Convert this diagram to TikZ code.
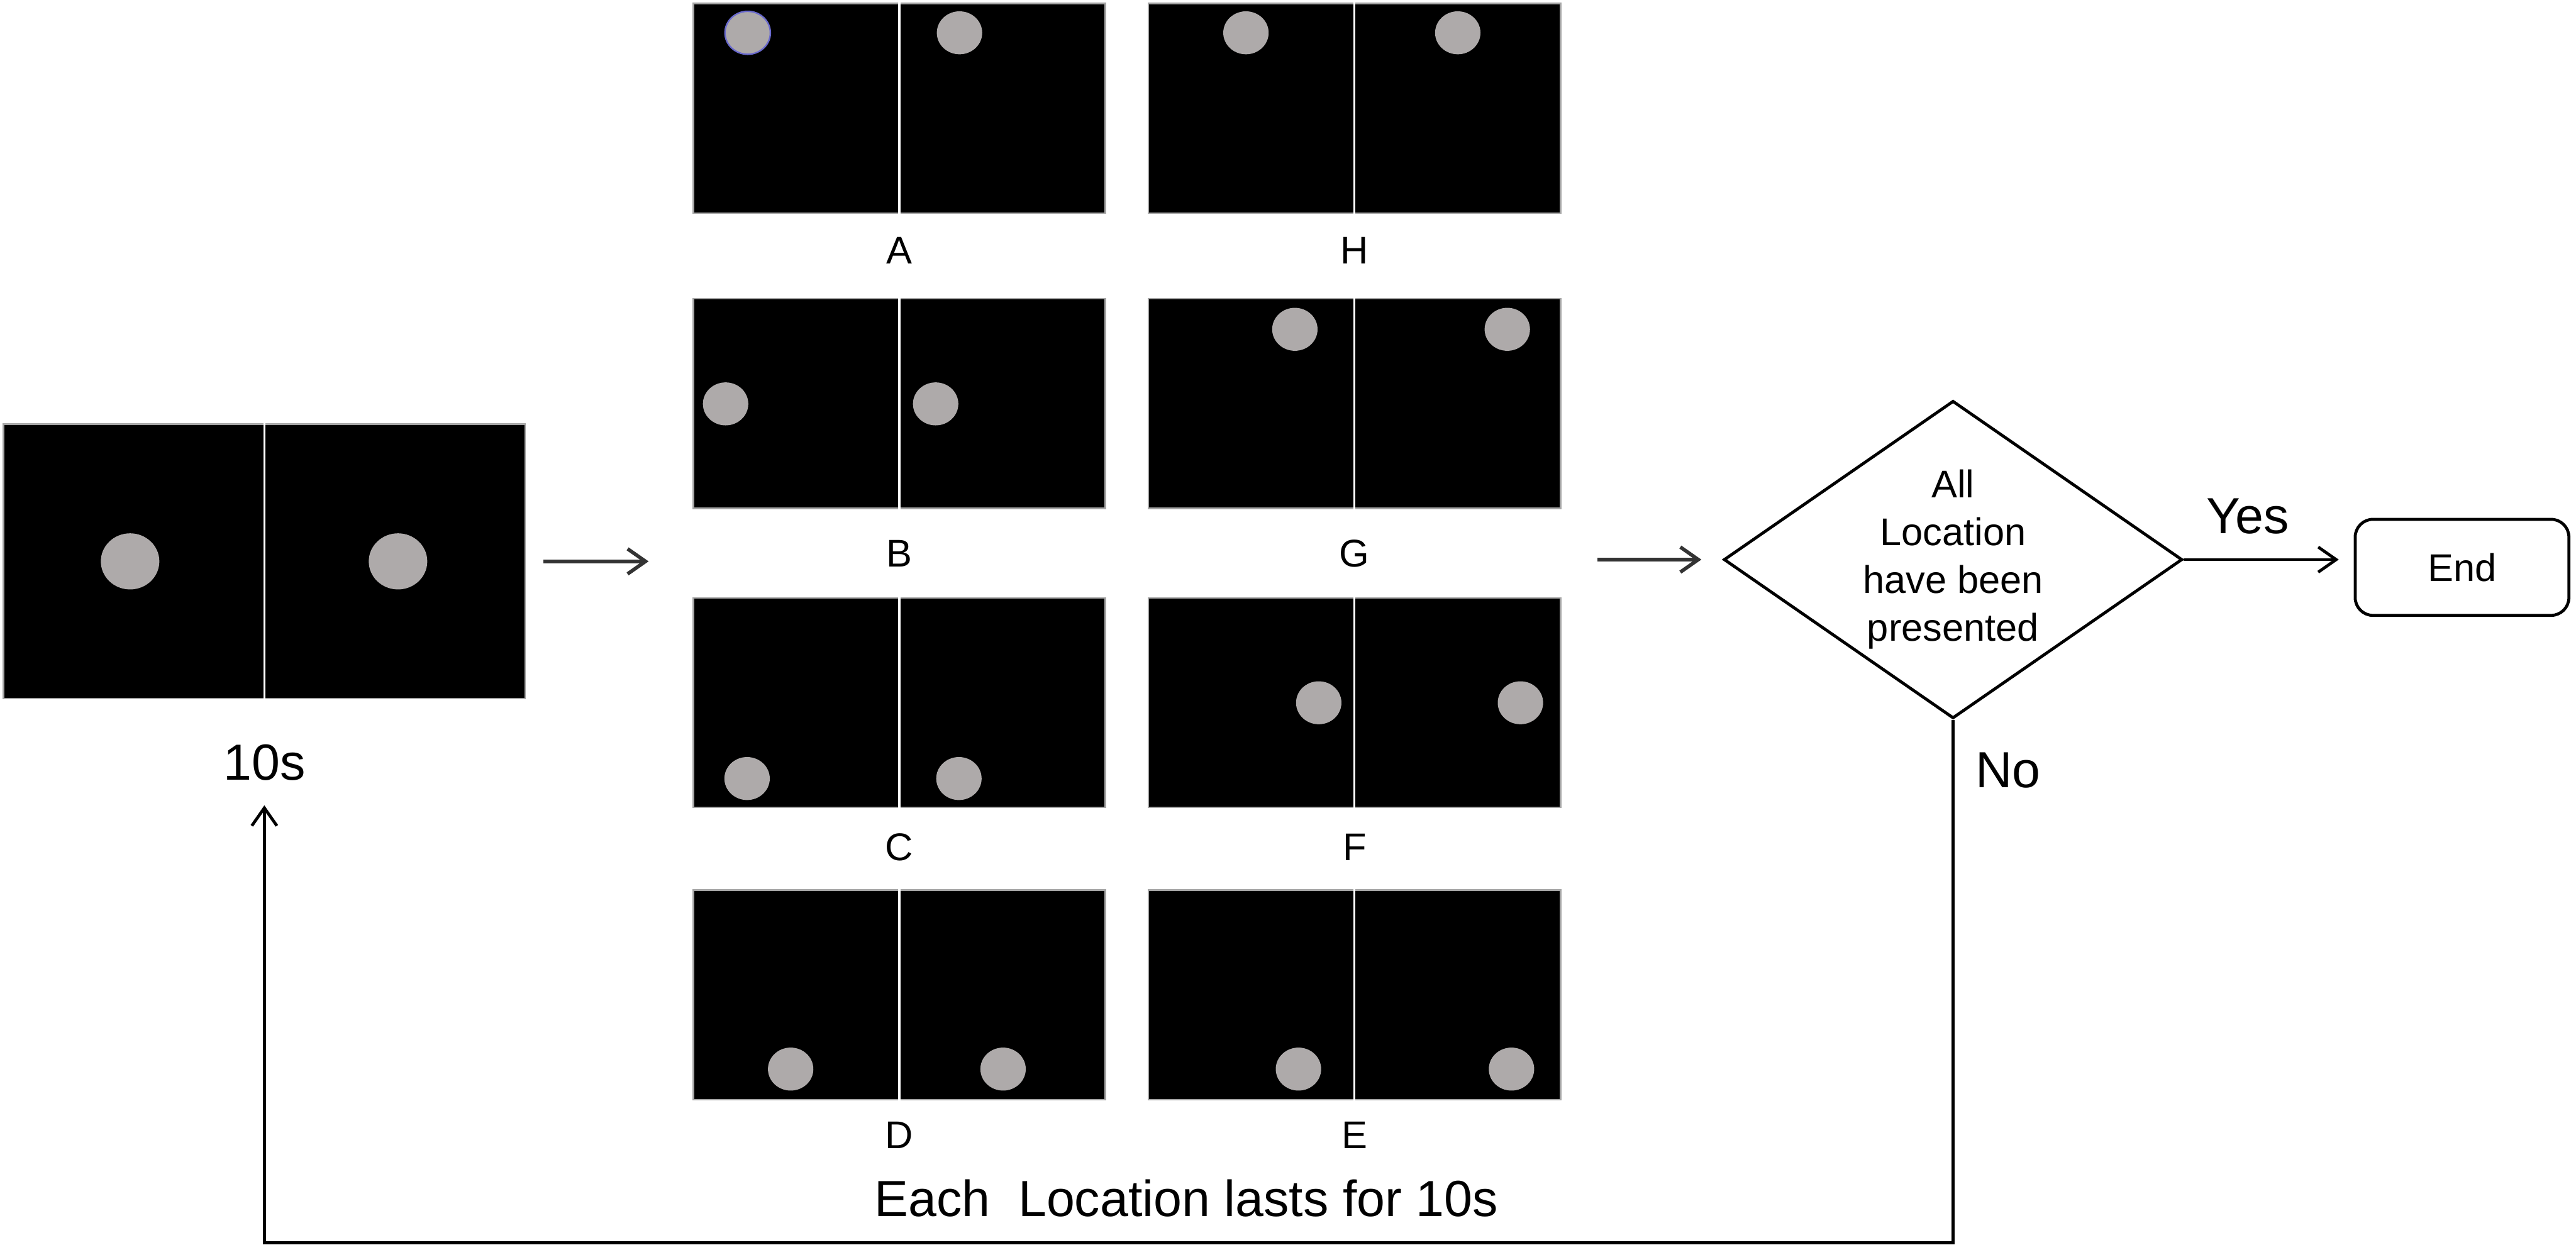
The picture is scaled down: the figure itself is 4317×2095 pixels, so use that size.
\documentclass[tikz,border=0pt]{standalone}
\usepackage{fontspec}
\setmainfont{Liberation Sans}
\usetikzlibrary{arrows.meta,shapes.geometric,positioning}
\definecolor{dotgray}{RGB}{174,170,170}
\definecolor{ringblue}{RGB}{105,105,205}

\begin{document}
\begin{tikzpicture}[x=0.01cm,y=-0.01cm,
  panel/.style={draw=black!35,line width=0.025cm,fill=black,inner sep=0pt,minimum width=6.9cm,minimum height=3.51cm},
  split/.style={white,line width=0.035cm},
  bigtxt/.style={inner sep=0pt,font=\fontsize{24.2}{29}\selectfont},
  smalltxt/.style={inner sep=0pt,font=\fontsize{18.4}{22.8}\selectfont},
  flow/.style={line width=0.05cm},
  arr/.style={-{Straight Barb[length=0.3cm,width=0.42cm]}}]
\useasboundingbox (0,0) rectangle (4317,2095);
\node[panel,minimum width=8.74cm,minimum height=4.6cm] (fix) at (443,941) {};
\draw[split] (fix.north) -- (fix.south);
\fill[dotgray] (218,941) ellipse [x radius=0.49cm,y radius=0.47cm];
\fill[dotgray] (667,941) ellipse [x radius=0.49cm,y radius=0.47cm];
\node[bigtxt] (ten) at (443,1278) {10s};
\foreach \n/\px/\py/\lx/\rx/\dy/\ly in {A/1507/181.5/1253/1608/55/420,
    B/1507/676.5/1216/1568/677/928, C/1507/1178/1252/1607/1305/1420,
    D/1507/1667.5/1325/1681/1792/1903, H/2270/181.5/2088/2443/55/420,
    G/2270/676.5/2170/2526/552/928, F/2270/1178/2210/2548/1178/1420,
    E/2270/1667.5/2176/2533/1792/1903}{
  \node[panel] (p\n) at (\px,\py) {};
  \draw[split] (p\n.north) -- (p\n.south);
  \fill[dotgray] (\lx,\dy) ellipse [x radius=0.38cm,y radius=0.36cm];
  \fill[dotgray] (\rx,\dy) ellipse [x radius=0.38cm,y radius=0.36cm];
  \node[smalltxt] (l\n) at (\px,\ly) {\n};
}
\draw[ringblue,line width=0.025cm] (1253,55) ellipse [x radius=0.38cm,y radius=0.36cm];
\node[bigtxt] (note) at (1988,2008) {Each~ Location lasts for 10s};
\node[diamond,draw,flow,aspect=1.444,minimum width=7.68cm,minimum height=5.32cm,smalltxt,align=center] (dec) at (3273,938) {All\\Location\\have been\\presented};
\node[draw,flow,rounded corners=0.3cm,minimum width=3.58cm,minimum height=1.61cm,smalltxt] (fin) at (4126,951) {End};
\node[bigtxt] (yes) at (3767,865) {Yes};
\node[bigtxt] (no) at (3365,1291) {No};
\coordinate (g1) at (1087,941);
\coordinate (g2) at (2677,938);
\coordinate (back) at (443,2083);
\draw[flow,arr,black!80,line width=0.06cm] ([xshift=0.29cm]fix.east) -- (g1);
\draw[flow,arr,black!80,line width=0.06cm] (g2) -- ([xshift=-0.35cm]dec.west);
\draw[flow,arr] (dec.east) -- ([xshift=-0.25cm]fin.west |- dec.east);
\draw[flow,arr] (dec.south) |- (back) -- ([yshift=-0.41cm]ten.south);
\end{tikzpicture}
\end{document}
